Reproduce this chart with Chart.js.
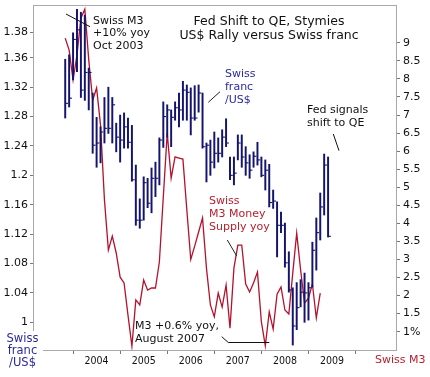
<!DOCTYPE html>
<html><head><meta charset="utf-8">
<script src="https://cdn.jsdelivr.net/npm/chart.js@4.4.1/dist/chart.umd.min.js"></script>
<style>html,body{margin:0;padding:0;background:#fff;}canvas{display:block}</style>
</head><body>
<canvas id="c" width="430" height="377"></canvas>
<script>
// ---- data ----
const months = [
 '2003-05','2003-06','2003-07','2003-08','2003-09','2003-10','2003-11','2003-12',
 '2004-01','2004-02','2004-03','2004-04','2004-05','2004-06','2004-07','2004-08','2004-09','2004-10','2004-11','2004-12',
 '2005-01','2005-02','2005-03','2005-04','2005-05','2005-06','2005-07','2005-08','2005-09','2005-10','2005-11','2005-12',
 '2006-01','2006-02','2006-03','2006-04','2006-05','2006-06','2006-07','2006-08','2006-09','2006-10','2006-11','2006-12',
 '2007-01','2007-02','2007-03','2007-04','2007-05','2007-06','2007-07','2007-08','2007-09','2007-10','2007-11','2007-12',
 '2008-01','2008-02','2008-03','2008-04','2008-05','2008-06','2008-07','2008-08','2008-09','2008-10','2008-11','2008-12'];

// Swiss franc per US$ monthly high / low / close
const chfHigh = [1.358,1.364,1.394,1.426,1.422,1.418,1.346,1.312,
 1.279,1.266,1.306,1.320,1.306,1.271,1.282,1.285,1.278,1.268,1.214,1.168,
 1.198,1.196,1.210,1.218,1.251,1.300,1.296,1.289,1.300,1.312,1.328,1.323,
 1.319,1.322,1.323,1.312,1.244,1.248,1.259,1.251,1.262,1.277,1.225,1.225,
 1.255,1.255,1.239,1.228,1.232,1.245,1.225,1.221,1.215,1.180,1.164,1.150,
 1.135,1.096,1.047,1.054,1.058,1.067,1.054,1.109,1.142,1.176,1.229,1.225];
const chfLow = [1.278,1.293,1.330,1.341,1.306,1.302,1.289,1.230,
 1.211,1.217,1.244,1.257,1.244,1.232,1.218,1.237,1.237,1.192,1.132,1.128,
 1.139,1.156,1.149,1.171,1.187,1.238,1.252,1.239,1.275,1.266,1.275,1.275,
 1.255,1.275,1.286,1.237,1.191,1.200,1.210,1.218,1.225,1.239,1.194,1.187,
 1.221,1.211,1.200,1.196,1.211,1.214,1.198,1.180,1.157,1.155,1.089,1.122,
 1.075,1.041,0.969,0.990,1.021,1.000,1.003,1.048,1.071,1.112,1.146,1.116];
const chfClose = [1.298,1.305,1.385,1.398,1.316,1.340,1.340,1.241,
 1.244,1.259,1.264,1.264,1.296,1.252,1.248,1.266,1.245,1.194,1.139,1.139,
 1.190,1.162,1.196,1.196,1.248,1.280,1.289,1.279,1.292,1.289,1.316,1.313,
 1.278,1.278,1.312,1.239,1.241,1.218,1.230,1.230,1.252,1.244,1.200,1.203,
 1.244,1.225,1.217,1.207,1.226,1.221,1.200,1.207,1.163,1.165,1.132,1.132,
 1.081,1.044,0.995,1.020,1.041,1.040,1.047,1.098,1.122,1.157,1.214,1.117];

// Swiss M3 money supply, % yoy (May 2003 .. Oct 2008)
const m3Yoy = [9.13,8.80,7.97,8.66,9.68,9.93,8.52,7.41,
 7.75,6.72,4.65,3.26,3.65,3.18,2.51,2.35,1.46,0.60,1.88,1.74,
 2.43,2.15,2.21,2.21,2.93,4.73,6.50,5.25,5.84,5.81,5.78,4.37,
 3.00,3.37,3.76,4.15,2.76,1.74,1.41,2.07,1.68,2.29,1.10,2.76,
 3.40,3.40,2.32,2.10,2.35,2.65,1.27,0.61,1.55,1.07,2.04,2.24,
 1.60,1.49,2.63,3.73,2.71,1.79,1.93,2.32,1.38,2.07];

const yearLabels = ['2004','2005','2006','2007','2008','2009'];
const leftTickValues = [1,1.04,1.08,1.12,1.16,1.2,1.24,1.28,1.32,1.36,1.395];
const leftTickLabels = ['1','1.04','1.08','1.12','1.16','1.2','1.24','1.28','1.32','1.36','1.38'];
const rightTickValues = [1,1.5,2,2.5,3,3.5,4,4.5,5,5.5,6,6.5,7,7.5,8,8.5,9];
const rightTickLabels = ['1%','1.5','2','2.5','3','3.5','4','4.5','5','5.5','6','6.5','7','7.5','8','8.5','9'];

// ---- build ----
const pos = s => { const [y, m] = s.split('-').map(Number); return (y - 2004) * 12 + (m - 1); };
const xs = months.map(pos);
const yearPos = yearLabels.map(y => (Number(y) - 2004) * 12);

const BLUE = '#14146e', RED = '#b3122d', AX = '#a9a9a9';
const FONT = '"DejaVu Sans", Verdana, sans-serif';

const annot = {
  id: 'annot',
  beforeDatasetsDraw(chart) {
    const ctx = chart.ctx, a = chart.chartArea;
    ctx.save();
    ctx.strokeStyle = AX; ctx.lineWidth = 1;
    ctx.beginPath(); ctx.moveTo(a.left, Math.round(a.top) + 0.5); ctx.lineTo(a.right, Math.round(a.top) + 0.5); ctx.stroke();
    ctx.restore();
  },
  afterDraw(chart) {
    const ctx = chart.ctx;
    ctx.save();
    ctx.textBaseline = 'middle';
    const txt = (lines, x, y0, dy, color, font, align) => {
      ctx.fillStyle = color; ctx.font = font; ctx.textAlign = align || 'left';
      lines.forEach((t, i) => ctx.fillText(t, x, y0 + i * dy));
    };
    const seg = (pts, color) => {
      ctx.strokeStyle = color; ctx.lineWidth = 1; ctx.beginPath();
      pts.forEach((p, i) => i ? ctx.lineTo(p[0], p[1]) : ctx.moveTo(p[0], p[1]));
      ctx.stroke();
    };
    const f11 = '11px ' + FONT;
    // title
    txt(['Fed Shift to QE, Stymies', 'US$ Rally versus Swiss franc'], 269, 22, 13.3, '#111', '12.5px ' + FONT, 'center');
    // annotations
    txt(['Swiss M3', '+10% yoy', 'Oct 2003'], 93, 20.7, 12.5, '#111', f11);
    seg([[66, 14], [90, 26.7]], '#111');
    txt(['Swiss', 'franc', '/US$'], 225, 74, 13.2, '#2a2a9c', f11);
    seg([[208.3, 102.3], [220, 91.7]], '#222');
    txt(['Fed signals', 'shift to QE'], 307, 110, 13.3, '#111', f11);
    seg([[333.3, 134], [339, 150.7]], '#111');
    txt(['Swiss', 'M3 Money', 'Supply yoy'], 209, 201.5, 13, '#b8202e', f11);
    seg([[227.3, 240], [236.7, 256]], '#222');
    txt(['M3 +0.6% yoy,', 'August 2007'], 135, 326.5, 12.5, '#111', f11);
    seg([[221.7, 336.7], [228.3, 342.5], [269.3, 342.5]], '#111');
    // axis titles
    ctx.fillStyle = '#fff'; ctx.fillRect(0, 331, 43, 46);
    txt(['Swiss', 'franc', '/US$'], 22.5, 339, 12.2, '#2a2a9c', '11.5px ' + FONT, 'center');
    txt(['Swiss M3'], 375, 360.5, 0, '#b8202e', f11);
    ctx.restore();
  }
};

new Chart(document.getElementById('c'), {
  data: {
    datasets: [
      { type: 'line', label: 'Swiss M3 yoy', yAxisID: 'yR', xAxisID: 'x',
        data: m3Yoy.map((v, i) => ({ x: xs[i], y: v })),
        borderColor: RED, borderWidth: 1.3, pointRadius: 0, tension: 0, fill: false, order: 2 },
      { type: 'bar', label: 'CHF range', yAxisID: 'yL', xAxisID: 'x',
        data: xs.map((x, i) => ({ x: x, y: [chfLow[i], chfHigh[i]] })),
        backgroundColor: BLUE, borderWidth: 0, barThickness: 1.3, order: 1 },
      { type: 'scatter', label: 'CHF close', yAxisID: 'yL', xAxisID: 'x',
        data: xs.map((x, i) => ({ x: x, y: chfClose[i] })),
        pointStyle: 'dash', radius: 2.8, borderColor: BLUE, borderWidth: 1.1, order: 0 }
    ]
  },
  options: {
    responsive: false, animation: false, devicePixelRatio: 1,
    layout: { padding: { top: 5, left: 0, right: 0, bottom: 0 } },
    plugins: { legend: { display: false }, tooltip: { enabled: false }, title: { display: false } },
    scales: {
      x: {
        type: 'linear', position: 'bottom', min: -8.5, max: 68.6,
        afterBuildTicks: s => { s.ticks = yearPos.map(v => ({ value: v })); },
        ticks: { callback: (v, i) => yearLabels[i], autoSkip: false, maxRotation: 0,
                 font: { family: '"DejaVu Sans Condensed", "DejaVu Sans", sans-serif', size: 10.5 }, color: '#111', padding: 1 },
        grid: { drawOnChartArea: false, drawTicks: true, tickLength: 4, color: '#777' },
        border: { display: true, color: AX, width: 1 },
        afterFit: s => { s.height = 27; s.paddingLeft = 0; s.paddingRight = 0; }
      },
      yL: {
        type: 'linear', position: 'left', min: 0.9623, max: 1.4317,
        afterBuildTicks: s => { s.ticks = leftTickValues.map(v => ({ value: v })); },
        ticks: { callback: (v, i) => leftTickLabels[i], autoSkip: false,
                 font: { family: FONT, size: 11 }, color: '#111', padding: 2 },
        grid: { drawOnChartArea: false, drawTicks: true, tickLength: 3, color: '#777' },
        border: { display: true, color: AX, width: 1 },
        afterFit: s => { s.width = 33; s.paddingTop = 0; s.paddingBottom = 0; }
      },
      yR: {
        type: 'linear', position: 'right', min: 0.493, max: 10.045,
        afterBuildTicks: s => { s.ticks = rightTickValues.map(v => ({ value: v })); },
        ticks: { callback: (v, i) => rightTickLabels[i], autoSkip: false,
                 font: { family: FONT, size: 11 }, color: '#111', padding: 3 },
        grid: { drawOnChartArea: false, drawTicks: true, tickLength: 4, color: '#777' },
        border: { display: true, color: AX, width: 1 },
        afterFit: s => { s.width = 34; s.paddingTop = 0; s.paddingBottom = 0; }
      }
    }
  },
  plugins: [annot]
});
</script>
</body></html>
